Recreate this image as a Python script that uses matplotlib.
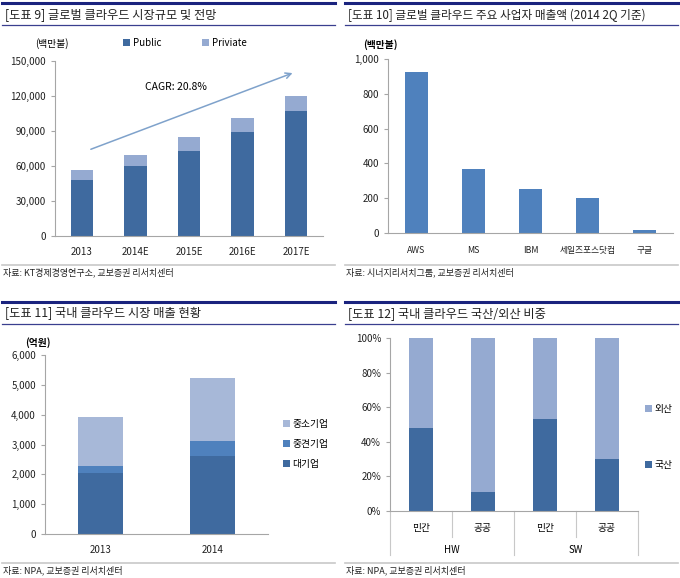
import matplotlib
matplotlib.use("Agg")
import matplotlib.pyplot as plt
from matplotlib.ticker import FuncFormatter

plt.rcParams['font.family'] = ['Noto Sans CJK KR', 'DejaVu Sans']

W, H = 680, 578

# chart 9: global cloud market
years9 = ['2013', '2014E', '2015E', '2016E', '2017E']
public9 = [48000, 60000, 73000, 89000, 107000]
private9 = [9000, 9500, 11500, 12500, 13000]

# chart 10: main vendors revenue (2014 2Q)
vendors10 = ['AWS', 'MS', 'IBM', '세일즈포스닷컴', '구글']
sales10 = [925, 370, 255, 200, 15]

# chart 11: domestic cloud market sales
years11 = ['2013', '2014']
large11 = [2030, 2600]
mid11 = [250, 530]
small11 = [1650, 2100]

# chart 12: domestic / foreign share
groups12 = ['HW', 'SW']
sectors12 = ['민간', '공공', '민간', '공공']
domestic12 = [0.48, 0.11, 0.53, 0.30]
foreign12 = [1 - v for v in domestic12]

C_DARK = '#3f6a9f'
C_MID = '#4f81bd'
C_LIGHT = '#95aad1'
C_LIGHT2 = '#a7b8d8'
AXIS = '#a6a6a6'
NAVY = '#1a237e'


def fx(x):
    return x / W


def fy(y):
    return 1 - y / H


def rect(x0, y0, x1, y1):
    return [fx(x0), fy(y1), (x1 - x0) / W, (y1 - y0) / H]


def hline(x0, x1, y, color, lw):
    fig.add_artist(plt.Line2D([fx(x0), fx(x1)], [fy(y), fy(y)], color=color, lw=lw))


def header(x0, x1, ytop, title, size=8.8):
    hline(x0, x1, ytop, NAVY, 2.2)
    fig.text(fx(x0 + 3), fy(ytop + 12), title, fontsize=size, va='center', ha='left', color='#222222')
    hline(x0, x1, ytop + 22, '#3a3f8f', 0.9)


def source(x0, x1, y, txt):
    hline(x0, x1, y, '#c8c8c8', 1.2)
    fig.text(fx(x0 + 1), fy(y + 7), txt, fontsize=6.5, va='center', ha='left', color='#222222')


def style(ax):
    for s in ['top', 'right']:
        ax.spines[s].set_visible(False)
    ax.spines['left'].set_color(AXIS)
    ax.spines['bottom'].set_color(AXIS)
    ax.tick_params(axis='y', colors=AXIS, labelcolor='#222222', labelsize=7, length=3)
    ax.tick_params(axis='x', length=0, labelcolor='#222222', labelsize=7, pad=8)


comma = FuncFormatter(lambda v, p: f'{int(v):,}')

fig = plt.figure(figsize=(W / 100, H / 100), dpi=100)

# ---- chart 9
header(2, 335, 3, '[도표 9] 글로벌 클라우드 시장규모 및 전망')
ax1 = fig.add_axes(rect(55, 61, 323, 236))
x1 = range(len(years9))
ax1.bar(x1, public9, width=0.42, color=C_DARK, label='Public')
ax1.bar(x1, private9, width=0.42, bottom=public9, color=C_LIGHT, label='Priviate')
ax1.set_xlim(-0.5, 4.5)
ax1.set_ylim(0, 150000)
ax1.set_yticks(range(0, 150001, 30000))
ax1.yaxis.set_major_formatter(comma)
ax1.set_xticks(list(x1))
ax1.set_xticklabels(years9)
style(ax1)
ax1.annotate('', xy=(3.98, 140500), xytext=(0.12, 73500),
             arrowprops=dict(arrowstyle='->', color='#7fa2cb', lw=1.1))
ax1.text(1.75, 127500, 'CAGR: 20.8%', fontsize=7.5, ha='center', va='center')
ax1.legend(ncol=2, loc='center', bbox_to_anchor=(fx(185), fy(43)), bbox_transform=fig.transFigure,
           frameon=False, fontsize=7, handlelength=0.7, handleheight=0.7, handletextpad=0.3,
           columnspacing=4.2)
fig.text(fx(35), fy(44), '(백만불)', fontsize=7, ha='left', va='center')
source(2, 335, 265, '자료: KT경제경영연구소, 교보증권 리서치센터')

# ---- chart 10
header(345, 678, 3, '[도표 10] 글로벌 클라우드 주요 사업자 매출액 (2014 2Q 기준)', size=8.4)
ax2 = fig.add_axes(rect(388, 59, 673, 233))
x2 = range(len(vendors10))
ax2.bar(x2, sales10, width=0.41, color=C_MID)
ax2.set_xlim(-0.5, 4.5)
ax2.set_ylim(0, 1000)
ax2.set_yticks(range(0, 1001, 200))
ax2.yaxis.set_major_formatter(comma)
ax2.set_xticks(list(x2))
ax2.set_xticklabels(vendors10)
style(ax2)
ax2.tick_params(axis='x', labelsize=6.3, pad=9)
fig.text(fx(363), fy(45), '(백만불)', fontsize=7, ha='left', va='center', fontweight='bold')
source(345, 678, 265, '자료: 시너지리서치그룹, 교보증권 리서치센터')

# ---- chart 11
header(2, 335, 302, '[도표 11] 국내 클라우드 시장 매출 현황')
ax3 = fig.add_axes(rect(45, 355, 268, 534))
x3 = range(len(years11))
b_mid = [a + b for a, b in zip(large11, mid11)]
h1 = ax3.bar(x3, large11, width=0.4, color=C_DARK, label='대기업')
h2 = ax3.bar(x3, mid11, width=0.4, bottom=large11, color=C_MID, label='중견기업')
h3 = ax3.bar(x3, small11, width=0.4, bottom=b_mid, color=C_LIGHT2, label='중소기업')
ax3.set_xlim(-0.5, 1.5)
ax3.set_ylim(0, 6000)
ax3.set_yticks(range(0, 6001, 1000))
ax3.yaxis.set_major_formatter(comma)
ax3.set_xticks(list(x3))
ax3.set_xticklabels(years11)
style(ax3)
ax3.legend(handles=[h3, h2, h1], loc='center left', bbox_to_anchor=(fx(274), fy(444)),
           bbox_transform=fig.transFigure, frameon=False, fontsize=7, handlelength=0.7,
           handleheight=0.7, handletextpad=0.3, labelspacing=1.0)
fig.text(fx(25), fy(343), '(억원)', fontsize=7, ha='left', va='center', fontweight='bold')
source(2, 335, 563, '자료: NPA, 교보증권 리서치센터')

# ---- chart 12
header(345, 678, 302, '[도표 12] 국내 클라우드 국산/외산 비중')
ax4 = fig.add_axes(rect(390, 338, 638, 511))
x4 = range(len(sectors12))
g1 = ax4.bar(x4, domestic12, width=0.39, color=C_DARK, label='국산')
g2 = ax4.bar(x4, foreign12, width=0.39, bottom=domestic12, color=C_LIGHT, label='외산')
ax4.set_xlim(-0.5, 3.5)
ax4.set_ylim(0, 1)
ax4.set_yticks([i / 5 for i in range(6)])
ax4.yaxis.set_major_formatter(FuncFormatter(lambda v, p: f'{v:.0%}'))
ax4.set_xticks([])
style(ax4)
tr = ax4.get_xaxis_transform()
for i, s in enumerate(sectors12):
    ax4.text(i, -0.098, s, transform=tr, ha='center', va='center', fontsize=7)
for k, g in enumerate(groups12):
    ax4.text(2 * k + 0.5, -0.225, g, transform=tr, ha='center', va='center', fontsize=7)
for xs, ylow in [(-0.5, -0.254), (0.5, -0.15), (1.5, -0.254), (2.5, -0.15), (3.5, -0.254)]:
    ax4.plot([xs, xs], [0, ylow], transform=tr, color='#c8c8c8', lw=0.8, clip_on=False)
ax4.legend(handles=[g2, g1], loc='center left', bbox_to_anchor=(fx(636), fy(437)),
           bbox_transform=fig.transFigure, frameon=False, fontsize=7, handlelength=0.7,
           handleheight=0.7, handletextpad=0.3, labelspacing=4.7)
source(345, 678, 563, '자료: NPA, 교보증권 리서치센터')

fig.savefig('out.png', dpi=100)
